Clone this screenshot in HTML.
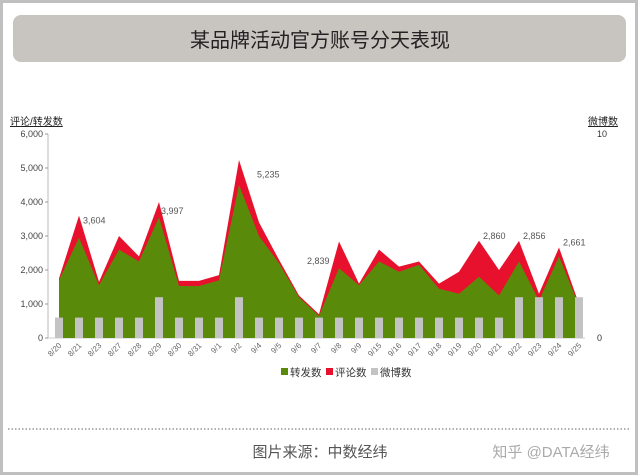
<!DOCTYPE html>
<html><head><meta charset="utf-8">
<style>
body{margin:0;background:#fff;}
#wrap{position:relative;width:640px;height:476px;overflow:hidden;font-family:"Liberation Sans","Noto Sans CJK SC",sans-serif;}
</style></head>
<body>
<div id="wrap">
<svg id="svg" width="640" height="476" xmlns="http://www.w3.org/2000/svg">
  <rect x="1.5" y="1.5" width="635" height="472" fill="#fff" stroke="#c0c0c0" stroke-width="3"/>
  <rect x="13" y="15" width="613" height="47" rx="8" fill="#c8c4c0"/>
  <text x="320" y="47" text-anchor="middle" font-size="20" fill="#222" font-family="Liberation Sans, Noto Sans CJK SC, sans-serif">某品牌活动官方账号分天表现</text>
  <text x="10" y="125" font-size="10" fill="#222" text-decoration="underline" font-family="Liberation Sans, Noto Sans CJK SC, sans-serif">评论/转发数</text>
  <text x="603" y="125" text-anchor="middle" font-size="10" fill="#222" text-decoration="underline" font-family="Liberation Sans, Noto Sans CJK SC, sans-serif">微博数</text>
  <g id="plot"></g>
  <line x1="8" y1="429" x2="631" y2="429" stroke="#999" stroke-width="1.5" stroke-dasharray="1.5,2"/>
  <text x="320" y="457" text-anchor="middle" font-size="15" fill="#555" font-family="Liberation Sans, Noto Sans CJK SC, sans-serif">图片来源：中数经纬</text>
  <text x="551" y="457" text-anchor="middle" font-size="15" fill="#aaa" font-family="Liberation Sans, Noto Sans CJK SC, sans-serif">知乎 @DATA经纬</text>
</svg>
</div>
<script>
const categories=["8/20","8/21","8/23","8/27","8/28","8/29","8/30","8/31","9/1","9/2","9/4","9/5","9/6","9/7","9/8","9/9","9/15","9/16","9/17","9/18","9/19","9/20","9/21","9/22","9/23","9/24","9/25"];
const reposts=[1700,2950,1550,2600,2250,3550,1530,1530,1700,4500,3000,2200,1200,650,2050,1550,2250,1950,2150,1450,1300,1800,1250,2250,1100,2400,950];
const comments=[50,650,100,400,150,450,150,150,150,735,400,100,50,50,790,50,350,150,100,150,650,1060,750,606,200,261,50];
const weibo=[1,1,1,1,1,2,1,1,1,2,1,1,1,1,1,1,1,1,1,1,1,1,1,2,2,2,2];
const leftTicks=[0,1000,2000,3000,4000,5000,6000];
const leftTickLabels=["0","1,000","2,000","3,000","4,000","5,000","6,000"];
const rightTicks=[0,10];
const valueLabels=[{i:1,t:"3,604",dx:4,dy:8},{i:5,t:"3,997",dx:2,dy:12},{i:10,t:"5,235",dx:-2,dy:-45},{i:13,t:"2,839",dx:-12,dy:-50},{i:21,t:"2,860",dx:4,dy:-2},{i:23,t:"2,856",dx:4,dy:-2},{i:25,t:"2,661",dx:4,dy:-2}];

const NS="http://www.w3.org/2000/svg";
const plot=document.getElementById('plot');
const y0=338,yTop=134,x0=59,step=20;
const yL=v=>y0-(v/6000)*(y0-yTop);
const yR=v=>y0-(v/10)*(y0-yTop);
const xC=i=>x0+i*step;
function mk(tag,attrs){const e=document.createElementNS(NS,tag);for(const k in attrs)e.setAttribute(k,attrs[k]);plot.appendChild(e);return e;}

let ax=mk('line',{x1:48,y1:yTop,x2:48,y2:y0,stroke:'#bbb'});


let bx=mk('line',{x1:48,y1:y0,x2:585,y2:y0,stroke:'#ccc'});


leftTicks.forEach((v,k)=>{
  const t=mk('line',{x1:45,y1:yL(v),x2:48,y2:yL(v),stroke:'#999'});
  
  
  const l=mk('text',{x:43,y:yL(v)+3,'text-anchor':'end','font-size':9,fill:'#444'});
  l.textContent=leftTickLabels[k];
  
  
});
rightTicks.forEach(v=>{
  const l=mk('text',{x:597,y:yR(v)+3,'font-size':9,fill:'#333'});
  l.textContent=String(v);
  
  
});

let dT='M'+xC(0)+','+y0;
categories.forEach((c,i)=>{dT+=' L'+xC(i)+','+yL(reposts[i]+comments[i]);});
dT+=' L'+xC(categories.length-1)+','+y0+' Z';
const redA=mk('path',{d:dT,fill:'#e8112d'});


let dG='M'+xC(0)+','+y0;
categories.forEach((c,i)=>{dG+=' L'+xC(i)+','+yL(reposts[i]);});
dG+=' L'+xC(categories.length-1)+','+y0+' Z';
const gA=mk('path',{d:dG,fill:'#5a8a0a'});



weibo.forEach((v,i)=>{
  const b=mk('rect',{x:xC(i)-4,y:yR(v),width:8,height:y0-yR(v),fill:'#c3c3c3'});
  
  
});

categories.forEach((c,i)=>{
  const t=mk('text',{x:xC(i)+3,y:y0+8,'text-anchor':'end','font-size':8,fill:'#666',transform:'rotate(-45 '+(xC(i)+3)+' '+(y0+8)+')'});
  t.textContent=c;
  
  
});

valueLabels.forEach(o=>{
  const v=reposts[o.i]+comments[o.i];
  const t=mk('text',{x:xC(o.i)+o.dx,y:yL(v)+o.dy,'font-size':9,fill:'#555'});
  t.textContent=o.t;
  
  
});

const leg=[["#5a8a0a","转发数",281],["#e8112d","评论数",326],["#c3c3c3","微博数",371]];
leg.forEach(l=>{
  const r=mk('rect',{x:l[2],y:368,width:7,height:7,fill:l[0]});
  
  
  const t=mk('text',{x:l[2]+9,y:376,'font-size':10.5,fill:'#333'});
  t.textContent=l[1];
  
  
});
</script>
</body></html>
